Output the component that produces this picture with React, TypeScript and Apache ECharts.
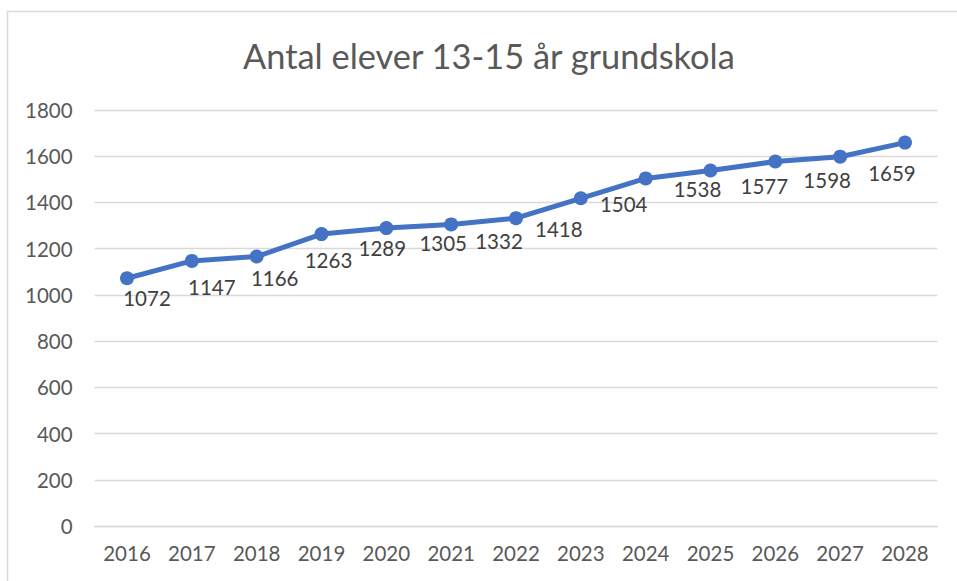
import React, { useEffect, useRef } from "react";
import * as echarts from "echarts";

const years = ["2016", "2017", "2018", "2019", "2020", "2021", "2022", "2023", "2024", "2025", "2026", "2027", "2028"];
const pupils = [1072, 1147, 1166, 1263, 1289, 1305, 1332, 1418, 1504, 1538, 1577, 1598, 1659];
const titleText = "Antal elever 13-15 år grundskola";

// hand-placed data-label nudges (pixels) as in the original workbook chart
const labelNudges: [number, number][] = [
  [20, 0], [20, 6], [18, 1], [7, 6], [-4, 0], [-8, -1], [-17, 3],
  [-22, 11], [-22, 6], [-13, -2], [-11, 4], [-13, 3], [-13, 10],
];

const FONT = "Lato, 'Open Sans', sans-serif";

export default function App() {
  const ref = useRef<HTMLDivElement>(null);
  useEffect(() => {
    document.body.style.margin = "0";
    const chart = echarts.init(ref.current!, null, { renderer: "svg" });
    chart.setOption({
      animation: false,
      backgroundColor: "#ffffff",
      title: {
        text: titleText,
        left: 238,
        top: 33,
        textStyle: { fontFamily: FONT, fontSize: 34.4, fontWeight: "normal", color: "#595959" },
      },
      graphic: [
        {
          type: "rect",
          shape: { x: 7.5, y: 11.5, width: 1000, height: 1000 },
          style: { fill: "none", stroke: "#d9d9d9", lineWidth: 1.5 },
          silent: true,
        },
      ],
      grid: { left: 94.6, right: 19.6, top: 110, bottom: 55, containLabel: false },
      xAxis: {
        type: "category",
        data: years,
        boundaryGap: true,
        axisLine: { lineStyle: { color: "#d9d9d9", width: 1.3 } },
        axisTick: { show: false },
        axisLabel: { color: "#595959", fontFamily: FONT, fontSize: 20.5, margin: 16 },
      },
      yAxis: {
        type: "value",
        min: 0,
        max: 1800,
        interval: 200,
        axisLine: { show: false },
        axisTick: { show: false },
        splitLine: { lineStyle: { color: "#d9d9d9", width: 1.3 } },
        axisLabel: {
          color: "#595959",
          fontFamily: FONT,
          fontSize: 20.5,
          margin: 22,
          formatter: (v: number) => String(v),
        },
      },
      series: [
        {
          type: "line",
          data: pupils.map((v, i) => ({ value: v, label: { offset: labelNudges[i] } })),
          symbol: "circle",
          symbolSize: 14,
          lineStyle: { color: "#4472C4", width: 5 },
          itemStyle: { color: "#4472C4" },
          label: {
            show: true,
            position: "bottom",
            distance: 2.5,
            color: "#404040",
            fontFamily: FONT,
            fontSize: 20.5,
          },
        },
      ],
    });
    return () => chart.dispose();
  }, []);
  return <div ref={ref} style={{ width: 957, height: 581 }} />;
}
